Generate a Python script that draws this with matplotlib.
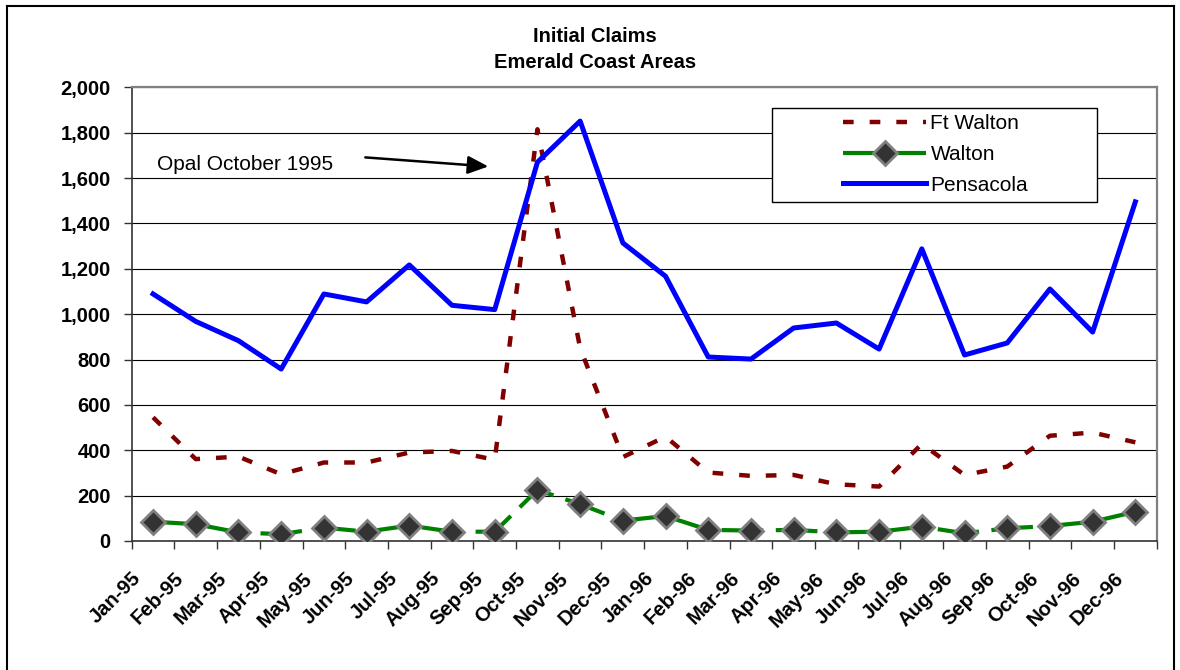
import matplotlib
matplotlib.use("Agg")
import matplotlib.pyplot as plt
from matplotlib.patches import Rectangle
from matplotlib.lines import Line2D
from matplotlib.transforms import ScaledTranslation

plt.rcParams["font.family"] = ["Liberation Sans", "DejaVu Sans"]

months = [
    "Jan-95", "Feb-95", "Mar-95", "Apr-95", "May-95", "Jun-95",
    "Jul-95", "Aug-95", "Sep-95", "Oct-95", "Nov-95", "Dec-95",
    "Jan-96", "Feb-96", "Mar-96", "Apr-96", "May-96", "Jun-96",
    "Jul-96", "Aug-96", "Sep-96", "Oct-96", "Nov-96", "Dec-96",
]

ft_walton = [545, 361, 372, 294, 346, 346, 390, 397, 358, 1815, 850, 370,
             460, 302, 287, 291, 250, 240, 428, 291, 328, 464, 478, 435]
walton = [85, 74, 38, 30, 59, 41, 68, 41, 41, 225, 162, 90,
          110, 49, 46, 49, 38, 41, 63, 34, 56, 66, 85, 129]
pensacola = [1089, 968, 883, 758, 1089, 1054, 1217, 1039, 1020, 1670, 1851, 1314,
             1167, 811, 802, 939, 961, 846, 1288, 820, 873, 1111, 921, 1495]

W, H = 1180, 670
fig = plt.figure(figsize=(W / 100, H / 100), dpi=100)
ax = fig.add_axes([131.7 / W, 1 - 541 / H, (1156.7 - 131.7) / W, (541 - 87.3) / H])

x = list(range(len(months)))

ax.plot(x, ft_walton, color="#800000", lw=3.2, dashes=(2.4, 3.6),
        dash_capstyle="butt", label="Ft Walton", zorder=3)
ax.plot(x, walton, color="#008000", lw=3, dashes=(10, 3),
        marker="D", markersize=12, markerfacecolor="#333333",
        markeredgecolor="#808080", markeredgewidth=2, label="Walton", zorder=4)
ax.plot(x, pensacola, color="#0000FF", lw=3.6, label="Pensacola", zorder=5)

ax.set_xlim(-0.5, len(months) - 0.5)
ax.set_ylim(0, 2000)
ax.set_yticks(range(0, 2001, 200))
ax.set_yticklabels([f"{v:,}" for v in range(0, 2001, 200)],
                   fontsize=14.5, fontweight="bold")
ax.yaxis.grid(True, color="black", lw=0.8)
ax.set_axisbelow(True)

# category labels sit at the centres, tick marks on the boundaries
ax.set_xticks(x)
ax.set_xticklabels(months, fontsize=14.5, fontweight="bold", rotation=45,
                   ha="right", va="top")
ax.set_xticks([i - 0.5 for i in range(len(months) + 1)], minor=True)
ax.tick_params(axis="x", which="major", length=0, pad=20)
ax.tick_params(axis="x", which="minor", length=6, width=1, color="#333333")
ax.tick_params(axis="y", length=6, width=1, color="#333333", pad=9)
shift = ScaledTranslation(-8 / 100, 0, fig.dpi_scale_trans)
for lbl in ax.get_xticklabels():
    lbl.set_transform(lbl.get_transform() + shift)

for side in ["left", "bottom"]:
    ax.spines[side].set_color("#333333")
    ax.spines[side].set_linewidth(1.2)
for side in ["top", "right"]:
    ax.spines[side].set_color("#808080")
    ax.spines[side].set_linewidth(1.6)

# hurricane note
ax.text(0.09, 1660, "Opal October 1995", fontsize=15, va="center", ha="left")
ax.annotate("", xy=(7.85, 1651), xytext=(4.97, 1691),
            arrowprops=dict(arrowstyle="-|>,head_length=0.5,head_width=0.22",
                            color="black", lw=1.8, mutation_scale=25,
                            shrinkA=0, shrinkB=0))

fig.text(595 / W, 1 - 36 / H, "Initial Claims", fontsize=14.5,
         fontweight="bold", ha="center", va="center")
fig.text(595 / W, 1 - 63 / H, "Emerald Coast Areas", fontsize=14.5,
         fontweight="bold", ha="center", va="center")

# legend box
fig.add_artist(Rectangle((772 / W, 1 - 202 / H), (1097 - 772) / W, (202 - 108) / H,
                         transform=fig.transFigure, facecolor="white",
                         edgecolor="black", lw=1, zorder=2))
fig.legend(loc="upper left", bbox_to_anchor=(843 / W, 1 - 114 / H),
           frameon=False, fontsize=15, handlelength=4.0, handletextpad=0.2,
           borderpad=0, borderaxespad=0, labelspacing=0.57, numpoints=1)

# outer chart frame
fig.add_artist(Line2D([7 / W, 7 / W], [0, 1 - 6 / H], transform=fig.transFigure,
                      color="black", lw=1.5))
fig.add_artist(Line2D([7 / W, 1174 / W], [1 - 6 / H, 1 - 6 / H],
                      transform=fig.transFigure, color="black", lw=1.5))
fig.add_artist(Line2D([1174 / W, 1174 / W], [0, 1 - 6 / H],
                      transform=fig.transFigure, color="black", lw=1.5))

fig.savefig("out.png", dpi=100)
